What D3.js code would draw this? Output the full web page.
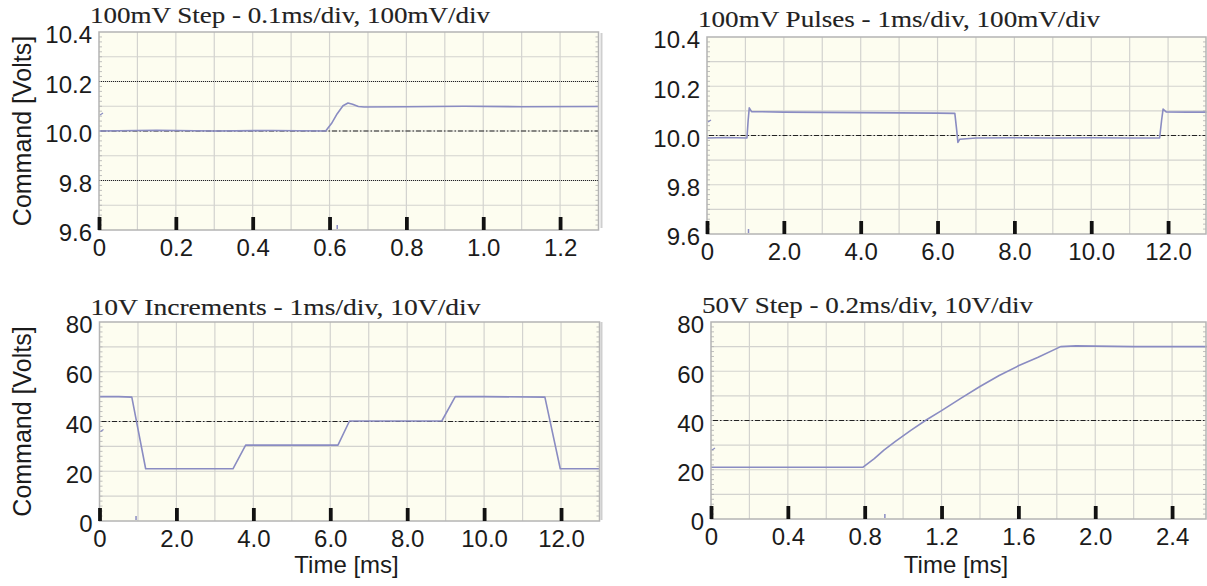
<!DOCTYPE html>
<html><head><meta charset="utf-8">
<script src="https://cdn.jsdelivr.net/npm/d3@7"></script>
<style>
html,body{margin:0;padding:0;background:#fff;}
svg{display:block;}
</style></head><body>
<svg id="c" width="1207" height="586"></svg>
<script>
// ---------------- DATA ----------------
const p1Title = "100mV Step - 0.1ms/div, 100mV/div";
const p1Trace = [[0,10.0],[0.15,10.003],[0.3,10.0],[0.45,10.002],[0.59,10.0],[0.605,10.03],[0.62,10.07],[0.635,10.102],[0.648,10.113],[0.66,10.108],[0.675,10.099],[0.69,10.097],[0.8,10.098],[0.95,10.1],[1.1,10.098],[1.3,10.099]];
const p1XTicks = [0,0.2,0.4,0.6,0.8,1.0,1.2];
const p1XLabels = ["0","0.2","0.4","0.6","0.8","1.0","1.2"];
const p1YTicks = [9.6,9.8,10.0,10.2,10.4];
const p1YLabels = ["9.6","9.8","10.0","10.2","10.4"];
const p1DotLines = [10.2, 9.8];
const p1DashDotLines = [10.0];
const p1TrigTime = 0.62, p1TrigLevel = 10.065;

const p2Title = "100mV Pulses - 1ms/div, 100mV/div";
const p2Trace = [[0,9.99],[0.5,9.992],[1.04,9.99],[1.07,10.06],[1.1,10.112],[1.16,10.097],[2,10.095],[3,10.094],[4,10.093],[5,10.092],[6,10.091],[6.45,10.09],[6.5,10.02],[6.53,9.972],[6.58,9.985],[7,9.99],[8,9.991],[9,9.99],[10,9.991],[11,9.99],[11.78,9.99],[11.83,10.06],[11.87,10.107],[11.95,10.096],[12.5,10.095],[13,10.095]];
const p2XTicks = [0,2,4,6,8,10,12];
const p2XLabels = ["0","2.0","4.0","6.0","8.0","10.0","12.0"];
const p2YTicks = [9.6,9.8,10.0,10.2,10.4];
const p2YLabels = ["9.6","9.8","10.0","10.2","10.4"];
const p2DotLines = [];
const p2DashDotLines = [10.0];
const p2TrigTime = 1.08, p2TrigLevel = 10.055;

const p3Title = "10V Increments - 1ms/div, 10V/div";
const p3Trace = [[0,50],[0.5,50],[0.84,49.8],[1.2,21],[2,21],[3,21],[3.47,21],[3.8,30.5],[5,30.5],[6.2,30.5],[6.5,40.2],[8,40.2],[8.9,40.2],[9.25,50],[10,50],[11.58,49.8],[11.98,21],[12.5,21],[13,21]];
const p3XTicks = [0,2,4,6,8,10,12];
const p3XLabels = ["0","2.0","4.0","6.0","8.0","10.0","12.0"];
const p3YTicks = [0,20,40,60,80];
const p3YLabels = ["0","20","40","60","80"];
const p3DotLines = [];
const p3DashDotLines = [40];
const p3TrigTime = 0.95, p3TrigLevel = 36;

const p4Title = "50V Step - 0.2ms/div, 10V/div";
const p4Trace = [[0,21],[0.4,21],[0.79,21],[0.85,24.5],[0.9,28],[0.96,31.5],[1.04,36],[1.12,40.2],[1.2,44],[1.3,49],[1.4,53.8],[1.5,58.3],[1.6,62.2],[1.7,65.6],[1.82,70],[1.9,70.3],[2.2,70],[2.6,70]];
const p4XTicks = [0,0.4,0.8,1.2,1.6,2.0,2.4];
const p4XLabels = ["0","0.4","0.8","1.2","1.6","2.0","2.4"];
const p4YTicks = [0,20,40,60,80];
const p4YLabels = ["0","20","40","60","80"];
const p4DotLines = [];
const p4DashDotLines = [40];
const p4TrigTime = 0.905, p4TrigLevel = 28;

const yAxisTitle = "Command [Volts]";
const xAxisTitle = "Time [ms]";

// ---------------- LAYOUT ----------------
const svg = d3.select("#c");
const W = 1207;
const panels = [
  {title:p1Title, trace:p1Trace, xt:p1XTicks, xl:p1XLabels, yt:p1YTicks, yl:p1YLabels, dot:p1DotLines, dd:p1DashDotLines, trig:p1TrigTime, lev:p1TrigLevel,
   xDom:[0,1.3], yDom:[9.6,10.4], xDiv:13, yDiv:8, box:{l:99,r:598.5,t:32,b:230}, ylab:true, xlab:false, titleY:23, titleW:400},
  {title:p2Title, trace:p2Trace, xt:p2XTicks, xl:p2XLabels, yt:p2YTicks, yl:p2YLabels, dot:p2DotLines, dd:p2DashDotLines, trig:p2TrigTime, lev:p2TrigLevel,
   xDom:[0,13], yDom:[9.6,10.4], xDiv:13, yDiv:8, box:{l:707,r:1206.5,t:37,b:234}, ylab:false, xlab:false, titleY:27, titleW:402},
  {title:p3Title, trace:p3Trace, xt:p3XTicks, xl:p3XLabels, yt:p3YTicks, yl:p3YLabels, dot:p3DotLines, dd:p3DashDotLines, trig:p3TrigTime, lev:p3TrigLevel,
   xDom:[0,13], yDom:[0,80], xDiv:13, yDiv:8, box:{l:99.5,r:599.5,t:322,b:521}, ylab:true, xlab:true, titleY:315, titleW:390},
  {title:p4Title, trace:p4Trace, xt:p4XTicks, xl:p4XLabels, yt:p4YTicks, yl:p4YLabels, dot:p4DotLines, dd:p4DashDotLines, trig:p4TrigTime, lev:p4TrigLevel,
   xDom:[0,2.6], yDom:[0,80], xDiv:13, yDiv:8, box:{l:711,r:1210.5,t:322,b:519}, ylab:false, xlab:true, titleY:313, titleW:331}
];

const SANS = "'Liberation Sans', Arial, sans-serif";
const SERIF = "'Liberation Serif', 'Times New Roman', serif";
const TRACE = "#8a8cc2";

// separator line between columns
svg.append("line").attr("x1",601.5).attr("x2",601.5).attr("y1",33).attr("y2",228).attr("stroke","#cfcfcf").attr("stroke-width",2);
svg.append("line").attr("x1",601.5).attr("x2",601.5).attr("y1",322).attr("y2",520).attr("stroke","#cfcfcf").attr("stroke-width",2);

panels.forEach(p => {
  const x = d3.scaleLinear().domain(p.xDom).range([p.box.l, p.box.r]);
  const y = d3.scaleLinear().domain(p.yDom).range([p.box.b, p.box.t]);
  const L = p.box.l, T = p.box.t, B = p.box.b, R = Math.min(p.box.r, W - 1);
  const g = svg.append("g");

  g.append("rect").attr("x",L).attr("y",T).attr("width",R-L).attr("height",B-T).attr("fill","#fdfdf0");

  // grid
  const xs = d3.range(1, p.xDiv).map(i => p.xDom[0] + i*(p.xDom[1]-p.xDom[0])/p.xDiv);
  const ys = d3.range(1, p.yDiv).map(i => p.yDom[0] + i*(p.yDom[1]-p.yDom[0])/p.yDiv);
  g.selectAll(".vg").data(xs).join("line")
    .attr("x1",d=>x(d)).attr("x2",d=>x(d)).attr("y1",T).attr("y2",B)
    .attr("stroke","#d3d3cf").attr("stroke-width",1.2);
  g.selectAll(".hg").data(ys).join("line")
    .attr("x1",L).attr("x2",R).attr("y1",d=>y(d)).attr("y2",d=>y(d))
    .attr("stroke","#d3d3cf").attr("stroke-width",1.2);

  // minor ticks on left / right edges
  const minor = d3.range(1, p.yDiv*5).map(i => p.yDom[0] + i*(p.yDom[1]-p.yDom[0])/(p.yDiv*5));
  g.selectAll(".mt").data(minor).join("line")
    .attr("x1",L).attr("x2",L+3).attr("y1",d=>y(d)).attr("y2",d=>y(d))
    .attr("stroke","#b0b0b0").attr("stroke-width",0.8);
  g.selectAll(".mtr").data(minor).join("line")
    .attr("x1",R-3).attr("x2",R).attr("y1",d=>y(d)).attr("y2",d=>y(d))
    .attr("stroke","#b0b0b0").attr("stroke-width",0.8);

  // reference lines
  g.selectAll(".dl").data(p.dot).join("line")
    .attr("x1",L).attr("x2",R).attr("y1",d=>y(d)).attr("y2",d=>y(d))
    .attr("stroke","#222").attr("stroke-width",1).attr("stroke-dasharray","1,1");
  g.selectAll(".ddl").data(p.dd).join("line")
    .attr("x1",L+2).attr("x2",R).attr("y1",d=>y(d)).attr("y2",d=>y(d))
    .attr("stroke","#222").attr("stroke-width",1.1).attr("stroke-dasharray","5,2,1.5,2");

  // trace
  const line = d3.line().x(d=>x(d[0])).y(d=>y(d[1]));
  g.append("path").datum(p.trace).attr("d",line)
    .attr("fill","none").attr("stroke",TRACE).attr("stroke-width",1.6).attr("stroke-linejoin","round");

  // border
  g.append("rect").attr("x",L).attr("y",T).attr("width",R-L).attr("height",B-T)
    .attr("fill","none").attr("stroke","#b4b4b4").attr("stroke-width",1.5);

  // trigger markers
  g.append("line").attr("x1",x(p.trig)).attr("x2",x(p.trig)).attr("y1",B-5).attr("y2",B-1)
    .attr("stroke",TRACE).attr("stroke-width",1.5);
  g.append("line").attr("x1",L+1).attr("x2",L+4).attr("y1",y(p.lev)).attr("y2",y(p.lev)-2)
    .attr("stroke",TRACE).attr("stroke-width",1.2);

  // x axis (tick bars + labels)
  const xa = d3.axisBottom(x).tickValues(p.xt).tickFormat((d,i)=>p.xl[i])
    .tickSizeInner(-13).tickSizeOuter(0).tickPadding(9);
  const gx = g.append("g").attr("transform",`translate(0,${B})`).call(xa);
  gx.select(".domain").remove();
  gx.selectAll(".tick line").attr("stroke","#111").attr("stroke-width",3.8);
  gx.selectAll(".tick text").attr("font-family",SANS).attr("font-size",24).attr("fill","#1b1b1b");

  // y axis labels
  const ya = d3.axisLeft(y).tickValues(p.yt).tickFormat((d,i)=>p.yl[i]).tickSize(0).tickPadding(7);
  const gy = g.append("g").attr("transform",`translate(${L},0)`).call(ya);
  gy.select(".domain").remove();
  gy.selectAll(".tick text").attr("font-family",SANS).attr("font-size",24).attr("fill","#1b1b1b").attr("dy","0.45em");

  // title
  g.append("text").attr("x",L-9).attr("y",p.titleY).text(p.title)
    .attr("font-family",SERIF).attr("font-size",24).attr("fill","#222")
    .attr("stroke","#222").attr("stroke-width",0.12)
    .attr("textLength",p.titleW).attr("lengthAdjust","spacingAndGlyphs");

  if (p.ylab) {
    g.append("text").attr("transform",`translate(31,${(T+B)/2}) rotate(-90)`)
      .attr("text-anchor","middle").text(yAxisTitle)
      .attr("font-family",SANS).attr("font-size",25).attr("fill","#1b1b1b");
  }
  if (p.xlab) {
    g.append("text").attr("x",(L + Math.min(p.box.r,W))/2 - 3).attr("y",573).attr("text-anchor","middle").text(xAxisTitle)
      .attr("font-family",SANS).attr("font-size",24).attr("fill","#1b1b1b");
  }
});
</script>
</body></html>
